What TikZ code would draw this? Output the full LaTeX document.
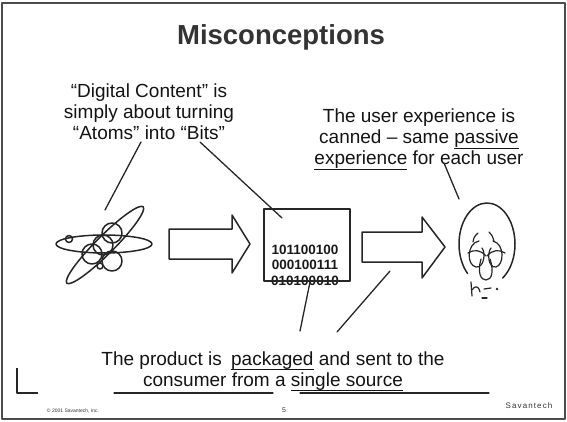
\documentclass[tikz,border=0pt]{standalone}
\usepackage{fontspec}
\setmainfont{Liberation Sans}
\newfontfamily\spacedfont[LetterSpace=14]{Liberation Sans}
% underline at a fixed depth below the baseline
\newcommand\ulword[1]{\setbox0\hbox{#1}\rlap{\rule[-4.6pt]{\wd0}{0.9pt}}\box0\relax}
\begin{document}
\begin{tikzpicture}[x=1pt,y=-1pt,line join=round,line cap=round,
  ink/.style={line width=1.5pt,draw=black!85},
  pointer/.style={line width=1.3pt,draw=black!85},
  face/.style={line width=1.2pt,draw=black!85},
  body/.style={font=\fontsize{19}{21}\selectfont,text=black!92,inner sep=0pt,anchor=base},
  bitrow/.style={font=\fontsize{13.5}{15}\selectfont\bfseries,text=black!90,inner sep=0pt,anchor=base},
  blockarrow/.style={line width=1.5pt,draw=black!85,fill=white},
  tiny/.style={inner sep=0pt,anchor=base,text=black!80}]
\useasboundingbox (0,0) rectangle (567,422);
\fill[white] (0,0) rectangle (567,422);
\draw[line width=1.3pt,draw=black!70] (2,3) rectangle (565,419);

% title
\node[inner sep=0pt,anchor=base,text=black!80,font=\fontsize{27.5}{30}\selectfont\bfseries]
  (title) at (281,45) {Misconceptions};

% upper left statement
\node[body] (d1) at (149,98)  {“Digital Content” is};
\node[body] (d2) at (149,119) {simply about turning};
\node[body] (d3) at (149,140) {“Atoms” into “Bits”};

% upper right statement
\node[body] (u1) at (419,123) {The user experience is};
\node[body] (u2) at (419,144) {canned -- same \ulword{passive}};
\node[body] (u3) at (419,165) {\ulword{experience} for each user};

% bottom statement
\node[body] (p1) at (273,365) {The product is\hspace{4pt} \ulword{packaged} and sent to the};
\node[body] (p2) at (273,386) {consumer from a \ulword{single source}};
\coordinate (rl1) at (114,393); \coordinate (rl2) at (273,393);
\coordinate (rr1) at (300,393); \coordinate (rr2) at (489,393);
\draw[line width=1.2pt,draw=black!85] (rl1) -- (rl2);
\draw[line width=1.2pt,draw=black!85] (rr1) -- (rr2);

% corner mark
\coordinate (ctop) at (17,368); \coordinate (ccorner) at (17,393); \coordinate (cend) at (38,393);
\draw[line width=1.3pt,draw=black!85,line cap=butt] (ctop) -- (ccorner) -- (cend);

% atom: two orbits, an electron and the nucleus
\draw[ink] (104,244) ellipse [x radius=48,y radius=9];
\draw[ink,rotate around={45:(105,245)}] (105,245) ellipse [x radius=54,y radius=9];
\draw[ink] (69,239) circle [radius=3.5];
\draw[ink] (112,233) circle [radius=10];
\draw[ink] (103,245) circle [radius=10];
\draw[ink] (92,254) circle [radius=10];
\draw[ink] (112,261) circle [radius=10];
\draw[ink] (100,266) circle [radius=3];

% block arrows
\draw[blockarrow] (169,229) -- (232,229) -- (232,215) -- (250,244) -- (232,273) -- (232,259) -- (169,259) -- cycle;
\draw[blockarrow] (362,232) -- (422,232) -- (422,217) -- (445,247) -- (422,278) -- (422,262) -- (362,262) -- cycle;

% bits
\node[bitrow] (b1) at (305,254)   {101100100};
\node[bitrow] (b2) at (305,269.5) {000100111};
\node[bitrow] (b3) at (305,285)   {010100010};
\draw[ink,line cap=butt] (264,209) rectangle (350,281);

% face
\draw[ink] (487,244) ++(134:28 and 41) arc[start angle=134,end angle=416,x radius=28,y radius=41];
% brows
\draw[face] (473,242) .. controls (474,237) .. (478,233);
\draw[face] (489,232) .. controls (492,235) .. (494,241);
% eyes
\draw[face] (479,241) .. controls (467,243) and (466,265) .. (476,267) .. controls (484,268) and (486,253) .. (482,248);
\draw[face] (493,241) .. controls (505,244) and (504,265) .. (496,267) .. controls (488,268) and (487,253) .. (491,248);
% lids
\draw[face] (468,253) .. controls (474,249) and (481,250) .. (486,256);
\draw[face] (487,256) .. controls (492,250) and (499,249) .. (505,253);
% nose
\draw[face] (481,259) .. controls (477,273) and (481,280) .. (486,280) .. controls (492,280) and (494,271) .. (490,259);
% mouth
\draw[face] (471,282) -- (472,296);
\draw[face] (472,290) .. controls (475,285) and (479,286) .. (480,292);
\draw[face] (484,289) -- (491,288);
\fill[black!85] (497,289) circle [radius=1.4];
\draw[face] (482,298) -- (487,298);

% pointers
\coordinate (atomsEnd) at (141,142); \coordinate (atomTop) at (105,210);
\coordinate (bitsEnd) at (200,142);  \coordinate (boxIn) at (282,218);
\coordinate (forEnd) at (444,163);   \coordinate (faceTop) at (459,199);
\coordinate (boxBottom) at (310,282); \coordinate (prodA) at (300,331);
\coordinate (arrowLow) at (390,271); \coordinate (prodB) at (337,332);
\draw[pointer] (atomsEnd) -- (atomTop);
\draw[pointer] (bitsEnd) -- (boxIn);
\draw[pointer] (forEnd) -- (faceTop);
\draw[pointer] (boxBottom) -- (prodA);
\draw[pointer] (arrowLow) -- (prodB);

% footer
\node[tiny,font=\fontsize{5}{6}\selectfont] (copy) at (73,412) {© 2001 Savantech, Inc.};
\node[tiny,font=\fontsize{7}{8}\selectfont] (page) at (284,412) {5};
\node[tiny,font=\fontsize{8}{9}\spacedfont] (brand) at (529,408) {Savantech};
\end{tikzpicture}
\end{document}
